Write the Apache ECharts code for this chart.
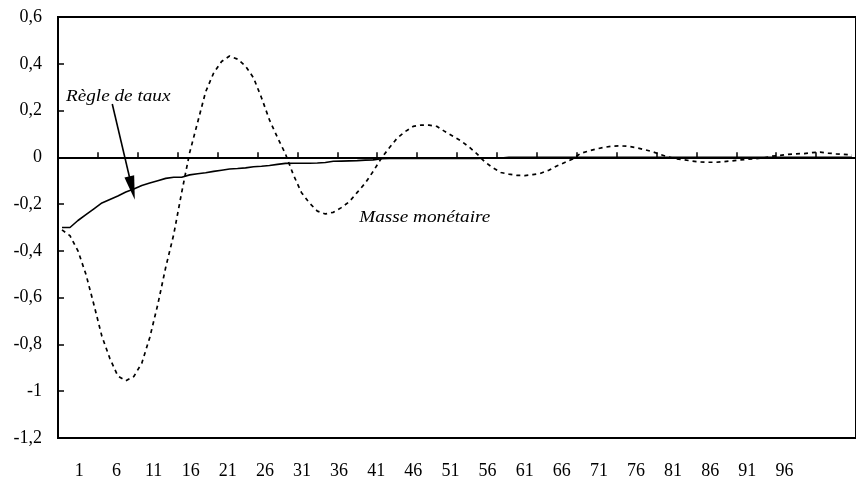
<!DOCTYPE html>
<html><head><meta charset="utf-8">
<script src="https://cdn.jsdelivr.net/npm/echarts@6/dist/echarts.min.js"></script>
<style>html,body{margin:0;padding:0;background:#fff}#c{width:856px;height:485px}</style>
</head><body><div id="c"></div>
<script>
// Periods 1..100 (category index of each observation)
const periods = Array.from({length: 100}, (_, i) => i + 1);

// Réponse de la masse monétaire (dashed)
const masseMonetaire = [
  -0.31, -0.335, -0.40, -0.50, -0.63, -0.765, -0.86, -0.935, -0.955, -0.937,
  -0.88, -0.77, -0.63, -0.47, -0.33, -0.15, 0.02, 0.15, 0.28, 0.36,
  0.41, 0.433, 0.42, 0.39, 0.34, 0.255, 0.16, 0.085, 0.015, -0.075,
  -0.15, -0.195, -0.23, -0.242, -0.235, -0.215, -0.19, -0.15, -0.11, -0.06,
  -0.005, 0.04, 0.082, 0.11, 0.132, 0.138, 0.138, 0.132, 0.11, 0.09,
  0.07, 0.045, 0.015, -0.02, -0.045, -0.065, -0.072, -0.077, -0.078, -0.074,
  -0.068, -0.055, -0.037, -0.022, -0.007, 0.017, 0.027, 0.036, 0.043, 0.048,
  0.049, 0.047, 0.041, 0.033, 0.024, 0.012, 0.001, -0.007, -0.011, -0.016,
  -0.02, -0.021, -0.021, -0.018, -0.015, -0.011, -0.008, -0.006, -0.002, 0.005,
  0.008, 0.013, 0.015, 0.016, 0.02, 0.022, 0.018, 0.015, 0.013, 0.01
];

// Règle de taux (solid)
const regleDeTaux = [
  -0.30, -0.30, -0.27, -0.245, -0.22, -0.195, -0.18, -0.165, -0.148, -0.135,
  -0.12, -0.11, -0.10, -0.09, -0.085, -0.085, -0.075, -0.07, -0.066, -0.06,
  -0.055, -0.05, -0.048, -0.045, -0.04, -0.038, -0.035, -0.03, -0.026, -0.025,
  -0.025, -0.025, -0.024, -0.022, -0.017, -0.016, -0.015, -0.014, -0.012, -0.011,
  -0.006, -0.005, -0.005, -0.005, -0.005, -0.005, -0.005, -0.005, -0.005, -0.005,
  -0.005, -0.005, -0.005, -0.004, -0.004, -0.003, 0, 0, 0, 0,
  0, 0, 0, 0, 0, 0, 0, 0, 0, 0,
  0, 0, 0, 0, 0, 0, 0, 0, 0, 0,
  0, 0, 0, 0, 0, 0, 0, 0, 0, 0,
  0, 0, 0, 0, 0, 0, 0, 0, 0, 0
];

// Tick labels of the horizontal axis
const xTickLabels = [1, 6, 11, 16, 21, 26, 31, 36, 41, 46, 51, 56, 61, 66, 71, 76, 81, 86, 91, 96];

// Annotations (data coordinates)
const labelRegle = {text: 'Règle de taux', at: [1.5, 0.258]};
const labelMasse = {text: 'Masse monétaire', at: [38.25, -0.259]};
const arrowFrom = [7.3, 0.228];
const arrowTo = [9.78, -0.131];

const FONT = '"Liberation Serif", "Times New Roman", serif';
const chart = echarts.init(document.getElementById('c'));

const option = {
  animation: false,
  backgroundColor: '#fff',
  grid: {left: 58, right: -10, top: 17, bottom: 47, show: true, borderColor: '#000', borderWidth: 2},
  xAxis: [
    {
      type: 'value', position: 'bottom', min: 0.5, max: 100.5,
      axisLine: {show: true, onZero: true, lineStyle: {color: '#000', width: 2}},
      axisTick: {show: true, inside: true, length: 5, lineStyle: {color: '#000', width: 1.5},
                 customValues: xTickLabels.map(v => v - 0.5)},
      axisLabel: {show: false},
      splitLine: {show: false}
    },
    {
      type: 'value', position: 'bottom', min: -1.874, max: 105.64,
      axisLine: {show: false, onZero: false},
      axisTick: {show: false},
      splitLine: {show: false},
      axisLabel: {customValues: xTickLabels, formatter: v => String(v),
                  fontFamily: FONT, fontSize: 18, color: '#000', margin: 24}
    }
  ],
  yAxis: {
    type: 'value', min: -1.2, max: 0.6, interval: 0.2,
    axisLine: {show: true, onZero: false, lineStyle: {color: '#000', width: 2}},
    axisTick: {show: true, inside: true, length: 6, lineStyle: {color: '#000', width: 1.5}},
    axisLabel: {formatter: v => String(Math.round(v * 10) / 10).replace('.', ','),
                fontFamily: FONT, fontSize: 18, color: '#000', margin: 16},
    splitLine: {show: false}
  },
  series: [
    {
      name: 'Masse monétaire', type: 'line', xAxisIndex: 0,
      data: periods.map((p, i) => [p, masseMonetaire[i]]),
      symbol: 'none', silent: true,
      lineStyle: {color: '#000', width: 1.7, type: [4, 4]}
    },
    {
      name: 'Règle de taux', type: 'line', xAxisIndex: 0,
      data: periods.map((p, i) => [p, regleDeTaux[i]]),
      symbol: 'none', silent: true,
      lineStyle: {color: '#000', width: 1.6},
      markLine: {
        silent: true, animation: false,
        symbol: ['none', 'triangle'], symbolSize: [10, 24],
        label: {show: false},
        lineStyle: {color: '#000', width: 1.6, type: 'solid', curveness: 0.15},
        emphasis: {disabled: true},
        data: [[{coord: arrowFrom}, {coord: arrowTo}]]
      }
    }
  ]
};
chart.setOption(option);

function annot(a) {
  const p = chart.convertToPixel({xAxisIndex: 0, yAxisIndex: 0}, a.at);
  return {type: 'text', x: p[0], y: p[1], scaleX: 1.2, silent: true,
          style: {text: a.text, font: 'italic 16px ' + FONT, fill: '#000',
                  align: 'left', verticalAlign: 'middle'}};
}
chart.setOption({graphic: [annot(labelRegle), annot(labelMasse)]});
</script>
</body></html>
